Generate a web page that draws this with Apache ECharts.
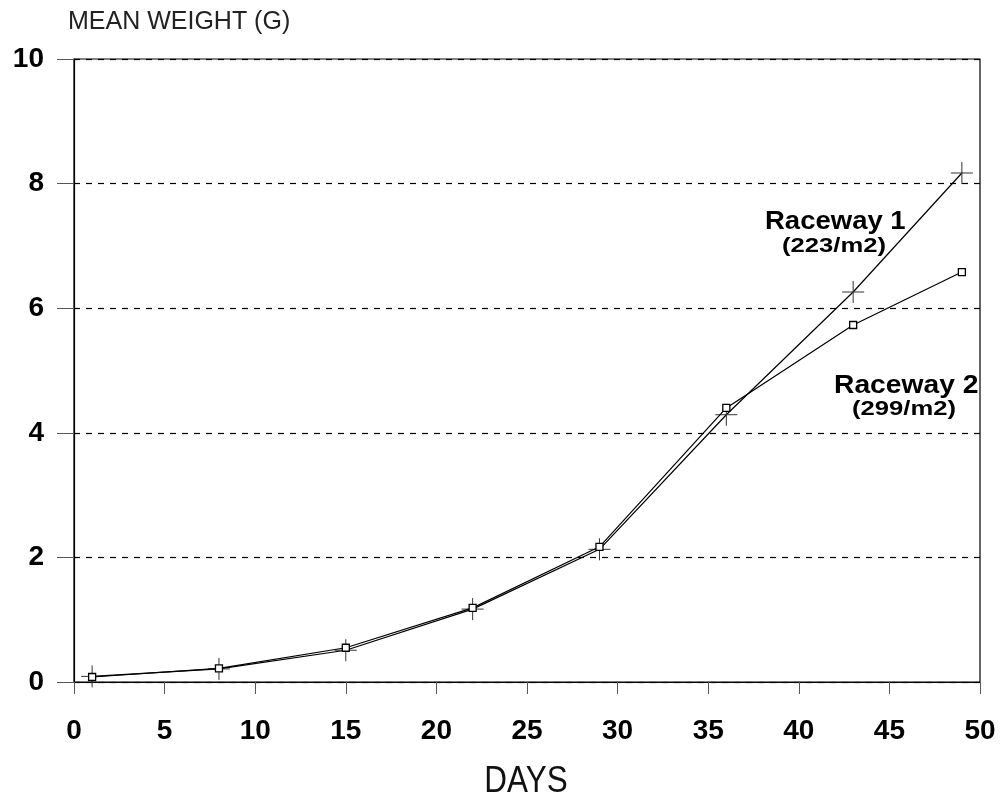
<!DOCTYPE html>
<html>
<head>
<meta charset="utf-8">
<script src="https://cdn.jsdelivr.net/npm/echarts@6/dist/echarts.min.js"></script>
<style>
html,body{margin:0;padding:0;background:#fff;}
#chart{width:1008px;height:799px;}
</style>
</head>
<body>
<div id="chart"></div>
<script>
var days = [1, 8, 15, 22, 29, 36, 43, 49];
var raceway1 = [0.09, 0.21, 0.51, 1.17, 2.13, 4.29, 6.26, 8.17];
var raceway2 = [0.08, 0.22, 0.55, 1.19, 2.17, 4.40, 5.73, 6.58];
var xTicks = [0, 5, 10, 15, 20, 25, 30, 35, 40, 45, 50];
var yTicks = [0, 2, 4, 6, 8, 10];

function pairs(xs, ys) { return xs.map(function (x, i) { return [x, ys[i]]; }); }

var chart = echarts.init(document.getElementById('chart'), null, {renderer: 'canvas'});
var crossPath = 'path://M0,11L22,11M11,0L11,22';
var fam = '"Liberation Sans", Arial, sans-serif';
chart.setOption({
  animation: false,
  backgroundColor: '#fff',
  grid: {left: 74, right: 28, top: 59, bottom: 117, show: true, borderColor: '#000', borderWidth: 1.2, containLabel: false},
  xAxis: {
    type: 'value', min: 0, max: 50, interval: 5,
    axisLine: {show: true, lineStyle: {color: '#000', width: 1.2}},
    axisTick: {show: true, length: 12, lineStyle: {color: '#555', width: 1}},
    axisLabel: {margin: 35, fontFamily: fam, fontWeight: 'bold', fontSize: 28, color: '#000',
      formatter: function (v) { return xTicks.indexOf(v) >= 0 ? String(v) : ''; }},
    splitLine: {show: false}
  },
  yAxis: {
    type: 'value', min: 0, max: 10, interval: 2,
    name: 'MEAN WEIGHT (G)', nameLocation: 'end', nameGap: 24,
    nameTextStyle: {fontFamily: fam, fontSize: 25, color: '#222', align: 'left', padding: [0, 0, 0, -6]},
    axisLine: {show: true, lineStyle: {color: '#000', width: 1.2}},
    axisTick: {show: true, length: 17, lineStyle: {color: '#555', width: 1}},
    axisLabel: {margin: 30, padding: [6, 0, 0, 0], fontFamily: fam, fontWeight: 'bold', fontSize: 28, color: '#000',
      formatter: function (v) { return yTicks.indexOf(v) >= 0 ? String(v) : ''; }},
    splitLine: {show: true, lineStyle: {color: '#000', width: 1.2, type: [6, 6]}}
  },
  series: [
    {
      name: 'Raceway 1', type: 'line', data: pairs(days, raceway1),
      symbol: crossPath, symbolSize: 22, showAllSymbol: true,
      lineStyle: {color: '#000', width: 1.2},
      itemStyle: {color: 'rgba(0,0,0,0)', borderColor: '#333', borderWidth: 1},
      z: 3
    },
    {
      name: 'Raceway 2', type: 'line', data: pairs(days, raceway2),
      symbol: 'rect', symbolSize: 7, showAllSymbol: true,
      lineStyle: {color: '#000', width: 1.2},
      itemStyle: {color: '#fff', borderColor: '#000', borderWidth: 1.3},
      z: 4
    }
  ],
  graphic: [
    {type: 'text', x: 765, y: 222, scaleX: 1.1, style: {text: 'Raceway 1', font: 'bold 25px ' + fam, fill: '#000', textVerticalAlign: 'middle'}},
    {type: 'text', x: 782, y: 246, scaleX: 1.22, style: {text: '(223/m2)', font: 'bold 21px ' + fam, fill: '#000', textVerticalAlign: 'middle'}},
    {type: 'text', x: 834, y: 386, scaleX: 1.13, style: {text: 'Raceway 2', font: 'bold 25px ' + fam, fill: '#000', textVerticalAlign: 'middle'}},
    {type: 'text', x: 852, y: 409, scaleX: 1.22, style: {text: '(299/m2)', font: 'bold 21px ' + fam, fill: '#000', textVerticalAlign: 'middle'}},
    {type: 'text', x: 526, y: 782, scaleX: 0.85, originX: 0, style: {text: 'DAYS', font: '37px ' + fam, fill: '#111', textAlign: 'center', textVerticalAlign: 'middle'}}
  ]
});
</script>
</body>
</html>
